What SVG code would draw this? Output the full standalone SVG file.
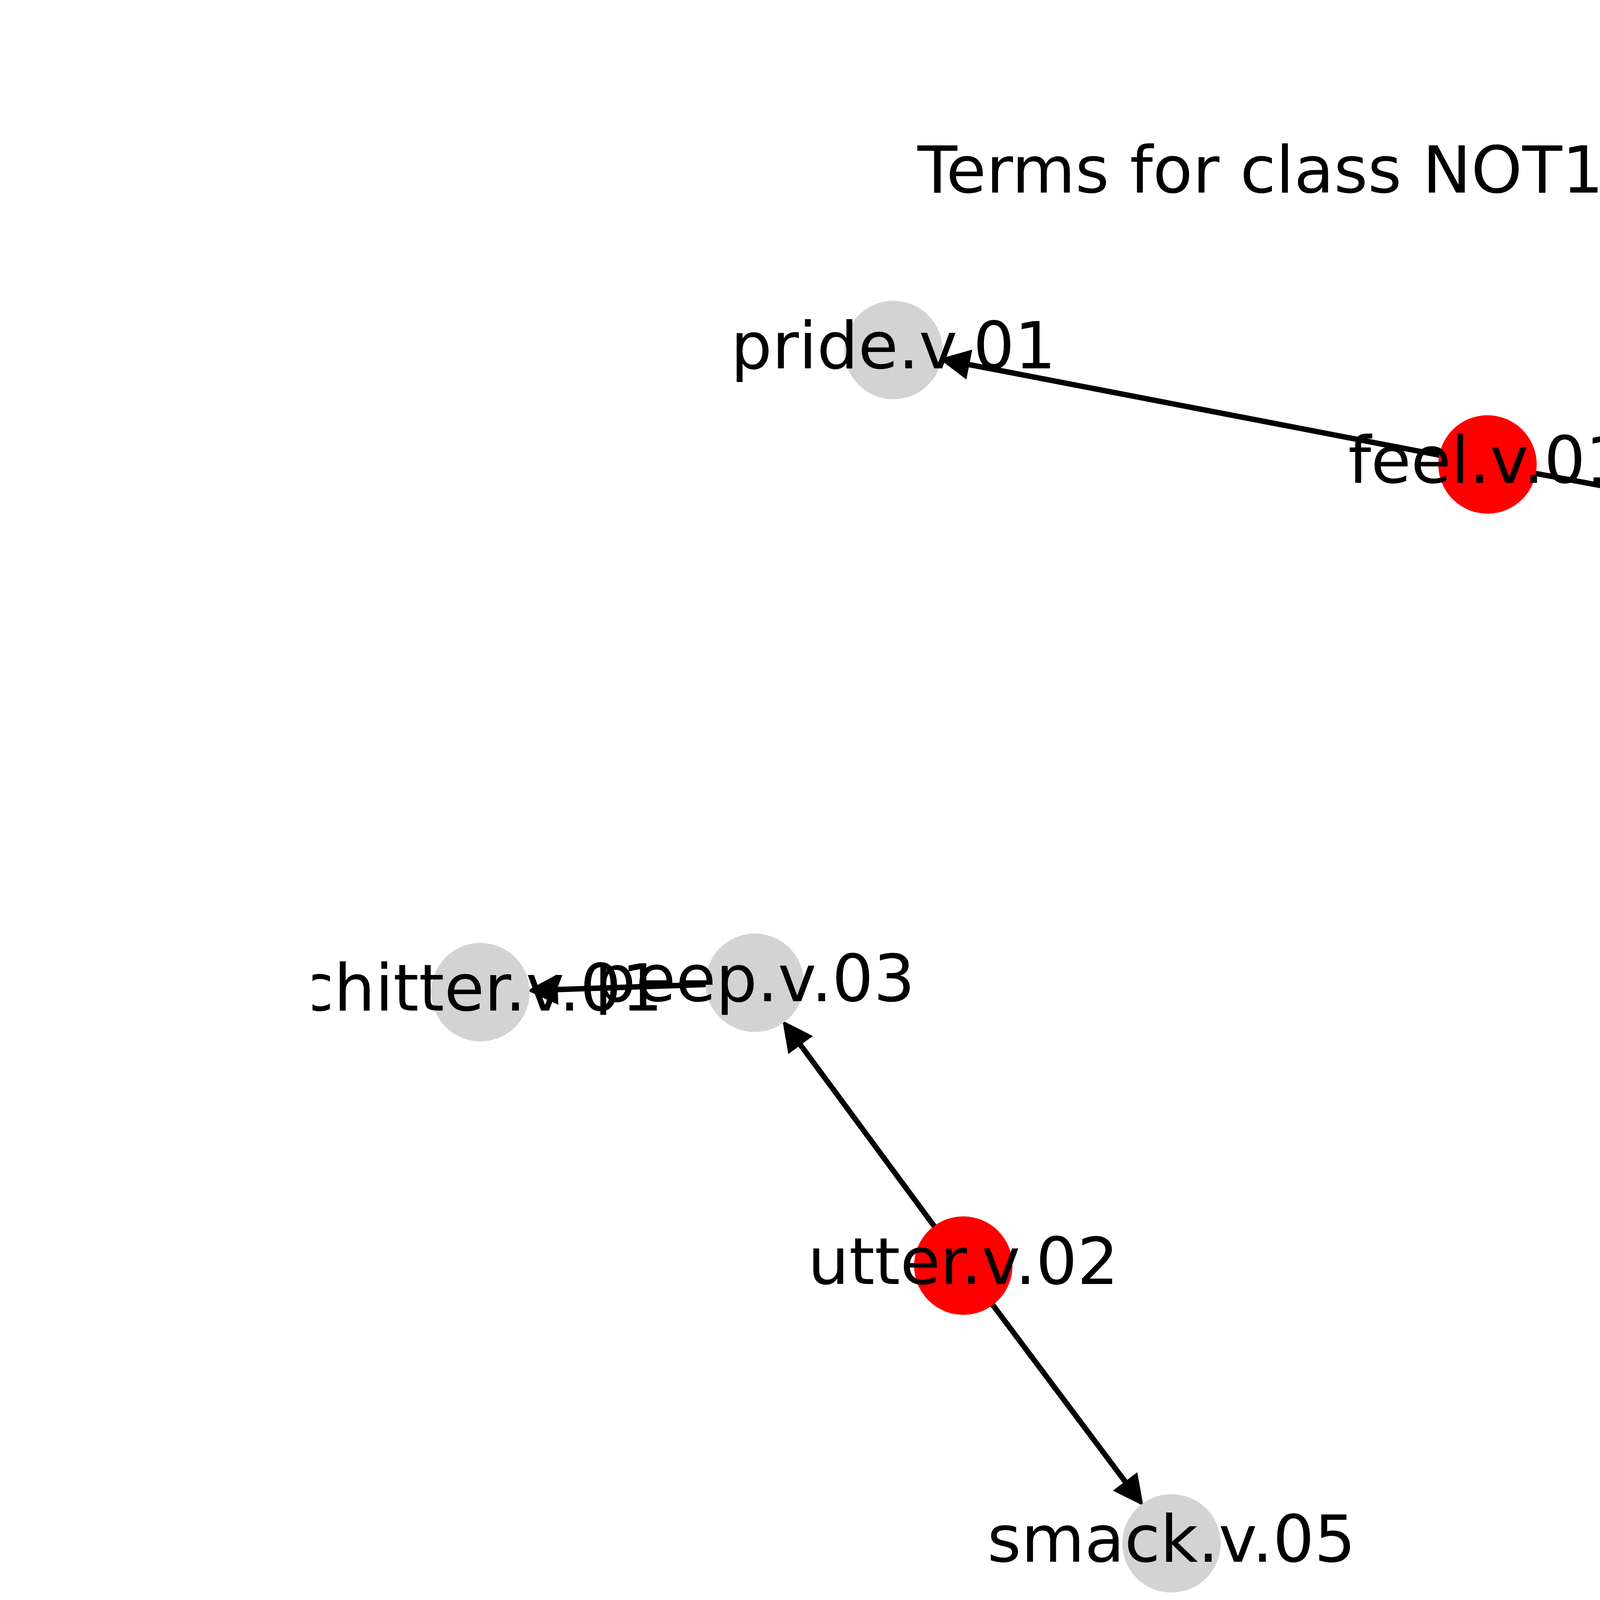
<svg xmlns="http://www.w3.org/2000/svg" width="6400" height="4800" viewBox="0 0 6400 4800">
  <style>
    .bg { fill: #ffffff; }
    .edge { stroke: #000000; stroke-width: 13.9; fill: none; stroke-linecap: butt; }
    .head { fill: #000000; stroke: #000000; stroke-width: 13.9; stroke-linejoin: miter; stroke-miterlimit: 10; }
    .hub { fill: #ff0000; }
    .leaf { fill: #d3d3d3; }
    .label { font-family: "DejaVu Sans", "Liberation Sans", sans-serif; font-size: 166.67px; fill: #000000; text-anchor: middle; }
    .title { font-family: "DejaVu Sans", "Liberation Sans", sans-serif; font-size: 166.67px; fill: #000000; text-anchor: middle; }
  </style>
  <defs>
    <clipPath id="axes">
      <rect x="800" y="576" width="4960" height="3696"/>
    </clipPath>
  </defs>
  <rect class="bg" x="0" y="0" width="6400" height="4800"/>
  <text class="title" x="3280" y="493">Terms for class NOT11</text>

  <g id="connectors">
    <g id="edge-feel-pride">
      <line class="edge" x1="3690.2" y1="1166.3" x2="2474.6" y2="932.1"/>
      <polygon class="head" points="2420.0,921.6 2479.9,904.8 2469.3,959.4"/>
    </g>
    <g id="edge-feel-harbor">
      <line class="edge" x1="3926.0" y1="1211.0" x2="5141.1" y2="1437.9"/>
      <polygon class="head" points="5195.8,1448.1 5136.0,1465.2 5146.2,1410.6"/>
    </g>
    <g id="edge-utter-peep">
      <line class="edge" x1="2394.8" y1="3143.4" x2="2045.4" y2="2669.8"/>
      <polygon class="head" points="2012.4,2625.1 2067.8,2653.3 2023.0,2686.3"/>
    </g>
    <g id="edge-utter-smack">
      <line class="edge" x1="2538.0" y1="3336.0" x2="2884.4" y2="3798.1"/>
      <polygon class="head" points="2917.7,3842.6 2862.1,3814.8 2906.6,3781.4"/>
    </g>
    <g id="edge-peep-chitter">
      <line class="edge" x1="1812.1" y1="2520.1" x2="1421.0" y2="2533.5"/>
      <polygon class="head" points="1365.4,2535.4 1420.0,2505.7 1422.0,2561.3"/>
    </g>
  </g>

  <g id="nodes">
    <g id="node-pride"><circle class="leaf" cx="2287" cy="896" r="126"/></g>
    <g id="node-feel"><circle class="hub" cx="3808" cy="1189" r="126"/></g>
    <g id="node-harbor"><circle class="leaf" cx="5329" cy="1473" r="126"/></g>
    <g id="node-chitter"><circle class="leaf" cx="1230" cy="2540" r="126"/></g>
    <g id="node-peep"><circle class="leaf" cx="1932" cy="2516" r="126"/></g>
    <g id="node-utter"><circle class="hub" cx="2466" cy="3240" r="126"/></g>
    <g id="node-smack"><circle class="leaf" cx="2999" cy="3951" r="126"/></g>
  </g>

  <g id="labels" clip-path="url(#axes)">
    <text class="label" x="2287" y="943">pride.v.01</text>
    <text class="label" x="3808" y="1236">feel.v.01</text>
    <text class="label" x="5329" y="1520">harbor.v.01</text>
    <text class="label" x="1230" y="2587">chitter.v.01</text>
    <text class="label" x="1932" y="2563">peep.v.03</text>
    <text class="label" x="2466" y="3287">utter.v.02</text>
    <text class="label" x="2999" y="3998">smack.v.05</text>
  </g>
</svg>
